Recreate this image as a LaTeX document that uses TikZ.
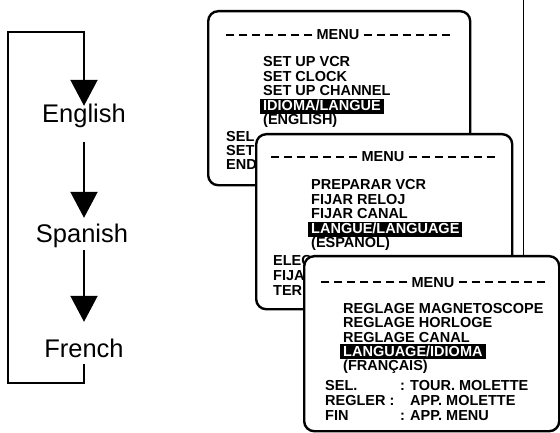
\documentclass[tikz,border=0pt]{standalone}
\usepackage{fontspec}
\usetikzlibrary{arrows.meta}
\newfontfamily\arialfam{Liberation Sans}
\newcommand\mnfont{\arialfam\bfseries\fontsize{14.5bp}{17bp}\selectfont}
\newcommand\lgfont{\arialfam\fontsize{25.5bp}{30bp}\selectfont}
\tikzset{
  menubox/.style={draw, line width=2.4bp, rounded corners=10bp, fill=white, anchor=north west, inner sep=0},
  item/.style={anchor=base west, inner sep=0, font=\mnfont},
  hl/.style={anchor=base west, fill=black, text=white, inner xsep=3bp, inner ysep=1.2bp, text height=10.5bp, text depth=2bp, font=\mnfont},
  menutitle/.style={anchor=base, inner sep=0, font=\mnfont},
  menudash/.style={line width=1.6bp, dash pattern=on 8bp off 5bp},
  lang/.style={anchor=base, inner xsep=0, inner ysep=2bp, text height=18bp, text depth=5bp, font=\lgfont},
  flow/.style={line width=2.2bp, -{Triangle[length=26bp,width=27bp]}},
}
\begin{document}
\begin{tikzpicture}[x=1bp,y=-1bp]
\useasboundingbox (0,0) rectangle (560,433);

% ---- language cycle ----
\node[lang] (en) at (84,123) {English};
\node[lang] (sp) at (82,243) {Spanish};
\node[lang] (fr) at (84,357) {French};
\coordinate (lb) at (8,383);
\coordinate (lt) at (8,32);
\draw[flow, shorten <=12bp, shorten >=5bp] (en.south) -- (en.south |- sp.north);
\draw[flow, shorten >=15bp] (en.south |- sp.south) -- (fr.north);
\draw[flow, shorten >=-3bp] (fr.south) |- (lb) -- (lt) -| (en.north);

% ---- thin page rule ----
\draw[line width=0.8bp] (523,0) -- (523,255);

% ---- menu 1 (English) ----
\node[menubox, minimum width=262bp, minimum height=174bp] (b1) at (207,10) {};
\node[menutitle] (b1m) at (338,40) {MENU};
\draw[menudash] ([xshift=-4bp]b1m.west) -- ++(-86,0);
\draw[menudash] ([xshift=4bp]b1m.east) -- ++(86,0);
\node[item] (b1a) at (263,67) {SET UP VCR};
\node[item] (b1b) at (263,81.5) {SET CLOCK};
\node[item] (b1c) at (263,96) {SET UP CHANNEL};
\node[hl]   (b1d) at (260,110.5) {IDIOMA/LANGUE};
\node[item] (b1e) at (263,125) {(ENGLISH)};
\node[item] (b1f) at (226,142) {SEL};
\node[item] (b1g) at (226,156) {SET};
\node[item] (b1h) at (226,170) {END};

% ---- menu 2 (Spanish) ----
\node[menubox, minimum width=256bp, minimum height=175bp] (b2) at (255,133) {};
\node[menutitle] (b2m) at (383,162) {MENU};
\draw[menudash] ([xshift=-4bp]b2m.west) -- ++(-86,0);
\draw[menudash] ([xshift=4bp]b2m.east) -- ++(86,0);
\node[item] (b2a) at (311,190) {PREPARAR VCR};
\node[item] (b2b) at (311,204.5) {FIJAR RELOJ};
\node[item] (b2c) at (311,219) {FIJAR CANAL};
\node[hl]   (b2d) at (308,233.5) {LANGUE/LANGUAGE};
\node[item] (b2e) at (311,248) {(ESPAÑOL)};
\node[item] (b2f) at (273,266) {ELEC};
\node[item] (b2g) at (273,280.5) {FIJA};
\node[item] (b2h) at (273,295) {TER};

% ---- menu 3 (French) ----
\node[menubox, minimum width=255bp, minimum height=175bp] (b3) at (303,255) {};
\node[menutitle] (b3m) at (433,287) {MENU};
\draw[menudash] ([xshift=-4bp]b3m.west) -- ++(-86,0);
\draw[menudash] ([xshift=4bp]b3m.east) -- ++(86,0);
\node[item] (b3a) at (343,313) {REGLAGE MAGNETOSCOPE};
\node[item] (b3b) at (343,327.5) {REGLAGE HORLOGE};
\node[item] (b3c) at (343,342) {REGLAGE CANAL};
\node[hl]   (b3d) at (340,356) {LANGUAGE/IDIOMA};
\node[item] (b3e) at (343,370.5) {(FRANÇAIS)};
\node[item] (b3f) at (325,390.5) {SEL.};
\node[item] (b3g) at (400,390.5) {:};
\node[item] (b3h) at (410,390.5) {TOUR. MOLETTE};
\node[item] (b3i) at (325,405.5) {REGLER :};
\node[item] (b3j) at (410,405.5) {APP. MOLETTE};
\node[item] (b3k) at (325,420.5) {FIN};
\node[item] (b3l) at (400,420.5) {:};
\node[item] (b3m2) at (410,420.5) {APP. MENU};
\end{tikzpicture}
\end{document}
